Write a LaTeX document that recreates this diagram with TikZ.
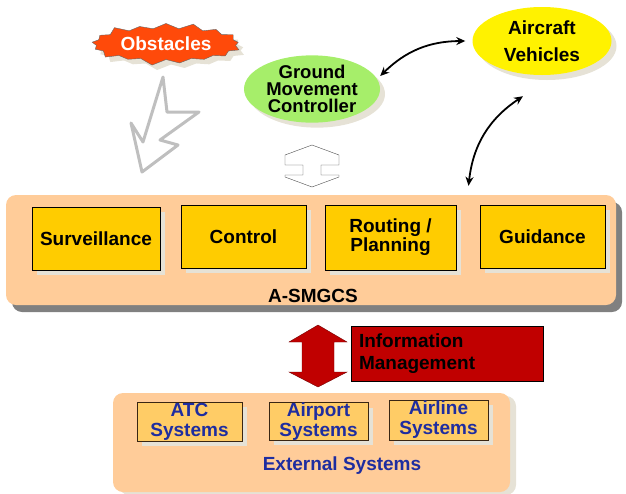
\documentclass[tikz,border=0pt]{standalone}
\usepackage{fontspec}
\setmainfont{Liberation Sans}
\usetikzlibrary{positioning,arrows.meta,shadows,shapes.geometric,shapes.symbols}

\definecolor{peach}{HTML}{FFCC99}
\definecolor{gold}{HTML}{FFCC00}
\definecolor{lightgold}{HTML}{FFCC66}
\definecolor{beige}{HTML}{E6E2D6}
\definecolor{darkshadow}{HTML}{808080}
\definecolor{imred}{HTML}{C00000}
\definecolor{obstred}{HTML}{FF4A0A}
\definecolor{gmcgreen}{HTML}{A6EE6A}
\definecolor{extblue}{HTML}{1E2DA0}

\begin{document}
\begin{tikzpicture}[
  x=1pt, y=-1pt,
  font=\bfseries\fontsize{19}{17}\selectfont,
  lshadow/.style={drop shadow={shadow xshift=5pt, shadow yshift=-5pt,
                  fill=beige, opacity=1}},
  func/.style={draw, fill=gold, inner sep=0pt, align=center,
               minimum width=126pt, minimum height=63pt, lshadow},
  ext/.style={draw=black!70!brown, fill=lightgold, inner sep=0pt,
              align=center, text=extblue, minimum width=100pt,
              minimum height=39pt, lshadow,
              font=\bfseries\fontsize{19}{20}\selectfont},
  actor/.style={ellipse, inner sep=0pt, align=center, lshadow},
  dbl/.style={{Stealth[length=9pt,width=8pt]}-{Stealth[length=9pt,width=8pt]},
              line width=1.8pt},
  panel/.style={rounded corners=10pt, inner sep=0pt}
]
\useasboundingbox (0,0) rectangle (626,493);

% Obstacles and the hazard arrow pointing at the system.
\node[starburst, starburst points=17, starburst point height=7pt,
      fill=obstred, draw=black!60, text=white, inner xsep=4pt, inner ysep=4pt,
      minimum width=140pt, minimum height=34pt, lshadow] (obst) at (166,44) {Obstacles};
\draw[gray!50, line width=3pt, line join=round]
  (163,77) -- (143,142) -- (131,123) -- (142,172) -- (178,145)
  -- (160,140) -- (199,112) -- (167,112) -- cycle;

% Actors above the system.
\node[actor, fill=gmcgreen, minimum width=136pt, minimum height=62pt,
      font=\bfseries\fontsize{18.5}{17}\selectfont] (gmc) at (312,89)
  {Ground\\Movement\\Controller};
\node[actor, fill=yellow, minimum width=139pt, minimum height=68pt,
      font=\bfseries\fontsize{19}{27}\selectfont] (av) at (542,41)
  {Aircraft\\Vehicles};

% Hollow exchange arrow between controller and system.
\draw[draw=gray!60!black, fill=white]
  (312,145) -- (339,155) -- (339,165) -- (321,165) -- (321,175) -- (339,175)
  -- (339,177) -- (312,187) -- (285,177) -- (285,175) -- (303,175)
  -- (303,165) -- (285,165) -- (285,155) -- cycle;

% A-SMGCS panel with its four functions.
\node[panel, fill=peach, minimum width=610pt, minimum height=110pt,
      drop shadow={shadow xshift=6pt, shadow yshift=-7pt, fill=darkshadow, opacity=1}]
  (asmgcs) at (311,250) {};
\node (asmgcslbl) at (313,296) {A-SMGCS};
\node[func, minimum width=128pt] (surv) at (96,238.5) {Surveillance};
\node[func, minimum width=125pt] (ctrl) at (243.5,236.5) {Control};
\node[func, minimum width=131pt, minimum height=65pt] (rout) at (390.5,237.5) {Routing /\\Planning};
\node[func, minimum width=125pt] (guid) at (542.5,236.5) {Guidance};

% Curved links to the aircraft and vehicles.
\draw[dbl] ([yshift=13pt]gmc.east) to[bend left=22] ([xshift=-7pt]av.west);
\draw[dbl] ([xshift=-19pt,yshift=-21pt]av.south) to[bend right=25] ([xshift=-74pt,yshift=19pt]guid.north);

% Information management exchange.
\draw[fill=imred, draw=imred!60!black]
  (318,325) -- (347,342) -- (334,342) -- (334,372) -- (347,372) -- (318,387)
  -- (289,372) -- (302,372) -- (302,342) -- (289,342) -- cycle;
\node[draw, fill=imred, minimum width=192pt, minimum height=55pt,
      text width=176pt, inner xsep=8pt, inner ysep=0pt, align=left,
      font=\bfseries\fontsize{19}{22}\selectfont] (info) at (447,353.5)
  {Information\\Management};

% External systems panel.
\node[panel, fill=peach, minimum width=397pt, minimum height=99pt,
      drop shadow={shadow xshift=6pt, shadow yshift=-3pt, fill=beige, opacity=1}]
  (extsys) at (311.5,442.5) {};
\node[text=extblue] (extlbl) at (342,466) {External Systems};
\node[ext, minimum width=105pt] (atc) at (189.5,421.5) {ATC\\Systems};
\node[ext, minimum width=99pt, minimum height=37pt] (apt) at (318.5,421.5) {Airport\\Systems};
\node[ext, minimum width=99pt, minimum height=40pt] (aln) at (438.5,420) {Airline\\Systems};
\end{tikzpicture}
\end{document}
